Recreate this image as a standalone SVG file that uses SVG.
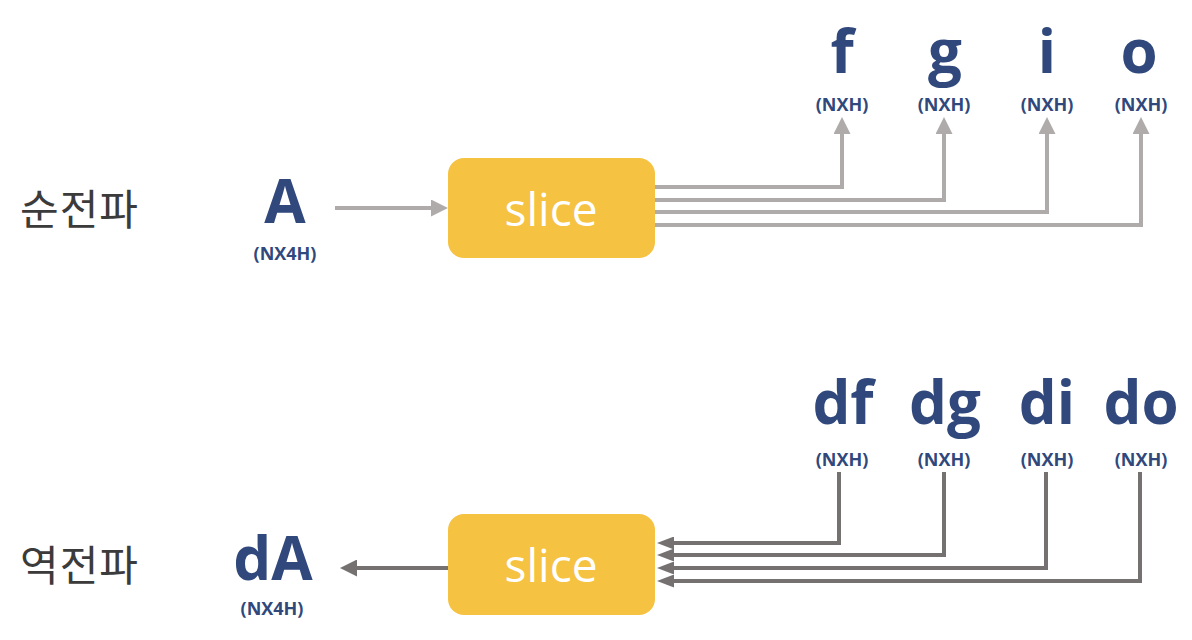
<svg xmlns="http://www.w3.org/2000/svg" width="1192" height="640" viewBox="0 0 1192 640">
<style>
.big{font-family:"Open Sans","Noto Sans",sans-serif;font-weight:700;font-size:60px;fill:#30487c;text-anchor:middle}
.sub{font-family:"Open Sans","Noto Sans",sans-serif;font-weight:700;font-size:18px;fill:#30487c;text-anchor:middle}
.kor{font-family:"Noto Sans CJK KR","Noto Sans",sans-serif;font-size:42px;fill:#3b3b3b}
.box{fill:#f5c242}
.boxt{font-family:"Open Sans","Noto Sans",sans-serif;font-size:46px;fill:#ffffff;text-anchor:middle}
.fw{fill:none;stroke:#afabab;stroke-width:4}
.bw{fill:none;stroke:#767171;stroke-width:4}
</style>
<defs>
<marker id="ah1" markerUnits="userSpaceOnUse" viewBox="0 0 17 17" refX="0" refY="8.5" markerWidth="17" markerHeight="17" orient="auto"><polygon points="0,0 17,8.5 0,17" fill="#afabab"/></marker>
<marker id="ah1b" markerUnits="userSpaceOnUse" viewBox="0 0 17 17" refX="0" refY="8.5" markerWidth="17" markerHeight="17" orient="auto"><polygon points="0,0 17,8.5 0,17" fill="#767171"/></marker>
<marker id="ah2" markerUnits="userSpaceOnUse" viewBox="0 0 17 13" refX="0" refY="6.5" markerWidth="17" markerHeight="13" orient="auto"><polygon points="0,0 17,6.5 0,13" fill="#767171"/></marker>
</defs>
<text class="kor" x="20" y="225" letter-spacing="1">순전파</text>
<text class="kor" x="20" y="581" letter-spacing="1">역전파</text>
<g id="nodeA"><text class="big" x="285" y="223">A</text><text class="sub" x="285" y="260">(NX4H)</text></g>
<g id="slice1"><rect class="box" x="448" y="158" width="207" height="100" rx="16"/><text class="boxt" x="551" y="226">slice</text></g>
<g id="f"><text class="big" x="842" y="73">f</text><text class="sub" x="842" y="111">(NXH)</text></g>
<g id="g"><text class="big" x="945" y="73">g</text><text class="sub" x="944" y="111">(NXH)</text></g>
<g id="i"><text class="big" x="1047" y="73">i</text><text class="sub" x="1047" y="111">(NXH)</text></g>
<g id="o"><text class="big" x="1139" y="73">o</text><text class="sub" x="1141" y="111">(NXH)</text></g>
<g id="dA"><text class="big" x="273" y="580">dA</text><text class="sub" x="272" y="615">(NX4H)</text></g>
<g id="slice2"><rect class="box" x="448" y="514" width="207" height="101" rx="16"/><text class="boxt" x="551" y="582">slice</text></g>
<g id="df"><text class="big" x="843" y="424">df</text><text class="sub" x="842" y="466">(NXH)</text></g>
<g id="dg"><text class="big" x="945" y="424">dg</text><text class="sub" x="944" y="466">(NXH)</text></g>
<g id="di"><text class="big" x="1047" y="424">di</text><text class="sub" x="1047" y="466">(NXH)</text></g>
<g id="do"><text class="big" x="1141" y="424">do</text><text class="sub" x="1141" y="466">(NXH)</text></g>
<g id="connectors">
<path class="fw" d="M335,208 H431" marker-end="url(#ah1)"/>
<path class="fw" d="M655,187 H842 V134" marker-end="url(#ah1)"/>
<path class="fw" d="M655,200 H944 V134" marker-end="url(#ah1)"/>
<path class="fw" d="M655,212 H1047 V134" marker-end="url(#ah1)"/>
<path class="fw" d="M655,225 H1141 V134" marker-end="url(#ah1)"/>
<path class="bw" d="M448,568 H357" marker-end="url(#ah1b)"/>
<path class="bw" d="M839,472 V543 H674" marker-end="url(#ah2)"/>
<path class="bw" d="M944,472 V555 H674" marker-end="url(#ah2)"/>
<path class="bw" d="M1046,472 V568 H674" marker-end="url(#ah2)"/>
<path class="bw" d="M1140,472 V581 H674" marker-end="url(#ah2)"/>
</g>
</svg>
